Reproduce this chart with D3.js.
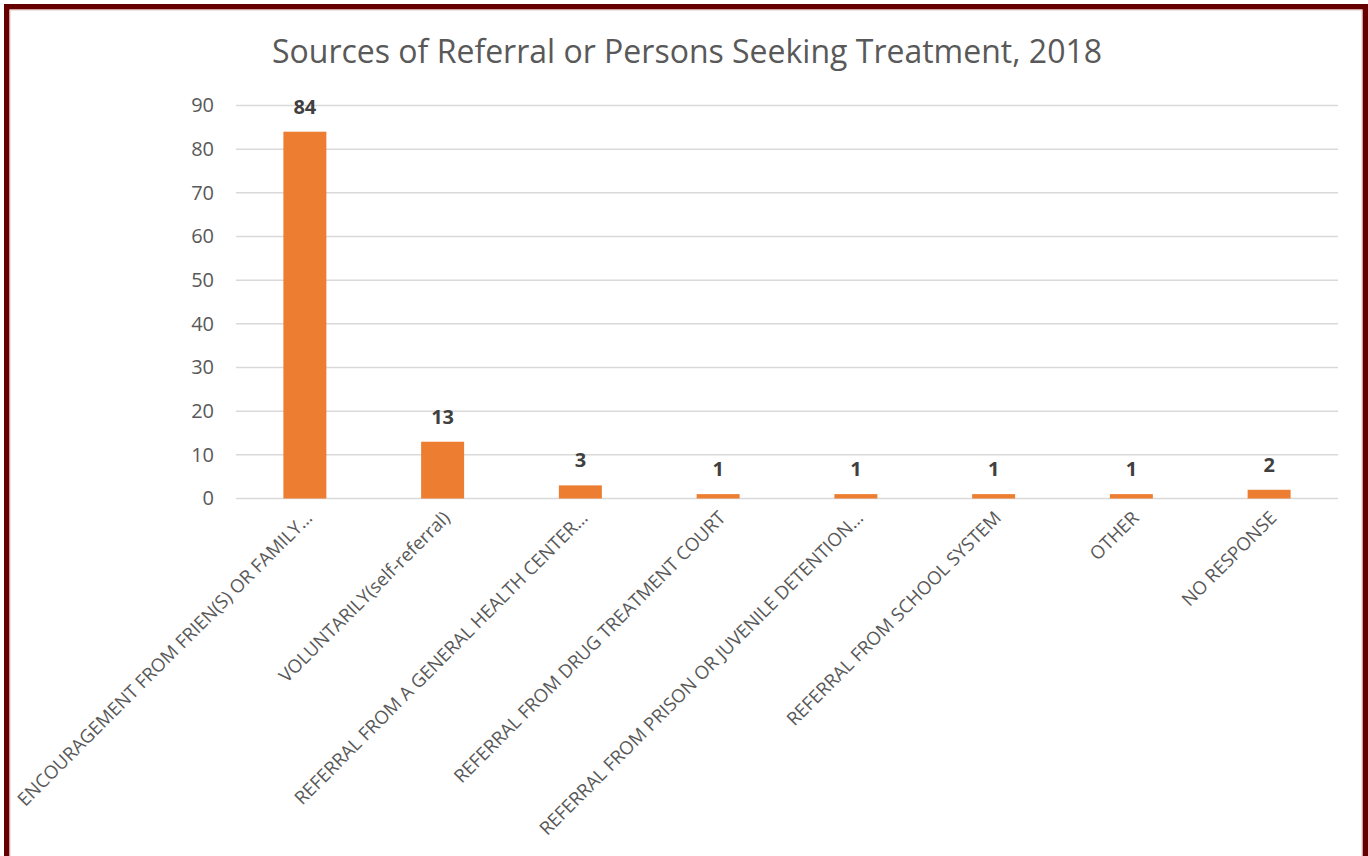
<!DOCTYPE html>
<html>
<head>
<meta charset="utf-8">
<script src="https://cdn.jsdelivr.net/npm/d3@7"></script>
<style>
  html, body { margin: 0; padding: 0; background: #fff; }
  svg { display: block; }
</style>
</head>
<body>
<svg id="chart" width="1368" height="856"></svg>
<script>
// Referral sources, 2018
const categories = [
  "ENCOURAGEMENT FROM FRIEN(S) OR FAMILY…",
  "VOLUNTARILY(self-referral)",
  "REFERRAL FROM A GENERAL HEALTH CENTER…",
  "REFERRAL FROM DRUG TREATMENT COURT",
  "REFERRAL FROM PRISON OR JUVENILE DETENTION…",
  "REFERRAL FROM SCHOOL SYSTEM",
  "OTHER",
  "NO RESPONSE"
];
const values = [84, 13, 3, 1, 1, 1, 1, 2];
const yTicks = [0, 10, 20, 30, 40, 50, 60, 70, 80, 90];
const title = "Sources of Referral or Persons Seeking Treatment, 2018";

const svg = d3.select("#chart");
const font = "'Open Sans', 'DejaVu Sans', sans-serif";

// frame
svg.append("rect")
  .attr("x", 6.75).attr("y", 6.75)
  .attr("width", 1358.5).attr("height", 900)
  .attr("fill", "#fff")
  .attr("stroke", "#660000")
  .attr("stroke-width", 5.5);
svg.append("rect")
  .attr("x", 10).attr("y", 10)
  .attr("width", 1352).attr("height", 900)
  .attr("fill", "none")
  .attr("stroke", "#e3c6c6")
  .attr("stroke-width", 1);

const plot = { left: 236, right: 1338, top: 105.5, bottom: 498.5 };

const x = d3.scaleBand()
  .domain(categories)
  .range([plot.left, plot.right])
  .paddingInner(0.688)
  .paddingOuter(0.344);

const y = d3.scaleLinear()
  .domain([0, 90])
  .range([plot.bottom, plot.top]);

// title
svg.append("text")
  .attr("x", 687).attr("y", 63)
  .attr("text-anchor", "middle")
  .attr("font-family", font)
  .attr("font-size", 32)
  .attr("fill", "#595959")
  .text(title);

// gridlines
svg.append("g")
  .selectAll("line")
  .data(yTicks)
  .join("line")
  .attr("x1", plot.left).attr("x2", plot.right)
  .attr("y1", d => y(d)).attr("y2", d => y(d))
  .attr("stroke", "#d9d9d9")
  .attr("stroke-width", 1.5);

// y axis
const yAxis = d3.axisLeft(y).tickValues(yTicks).tickSize(0).tickPadding(22);
svg.append("g")
  .attr("transform", `translate(${plot.left},0)`)
  .call(yAxis)
  .call(g => g.select(".domain").remove())
  .call(g => g.selectAll("text")
    .attr("font-family", font)
    .attr("font-size", 20)
    .attr("fill", "#595959"));

// bars
svg.append("g")
  .selectAll("rect")
  .data(values)
  .join("rect")
  .attr("x", (d, i) => x(categories[i]))
  .attr("width", x.bandwidth())
  .attr("y", d => y(d))
  .attr("height", d => y(0) - y(d))
  .attr("fill", "#ed7d31");

// value labels
svg.append("g")
  .selectAll("text")
  .data(values)
  .join("text")
  .attr("x", (d, i) => x(categories[i]) + x.bandwidth() / 2)
  .attr("y", d => y(d) - 18)
  .attr("text-anchor", "middle")
  .attr("font-family", font)
  .attr("font-size", 20)
  .attr("font-weight", "bold")
  .attr("fill", "#404040")
  .text(d => d);

// x axis (rotated category labels)
const xAxis = d3.axisBottom(x).tickSize(0).tickPadding(0);
svg.append("g")
  .attr("transform", `translate(0,${plot.bottom})`)
  .call(xAxis)
  .call(g => g.select(".domain").remove())
  .call(g => g.selectAll("text")
    .attr("font-family", font)
    .attr("font-size", 18.5)
    .attr("fill", "#595959")
    .attr("text-anchor", "end")
    .attr("y", 0)
    .attr("dy", "0.35em")
    .attr("transform", "translate(4,16) rotate(-45)"));
</script>
</body>
</html>
